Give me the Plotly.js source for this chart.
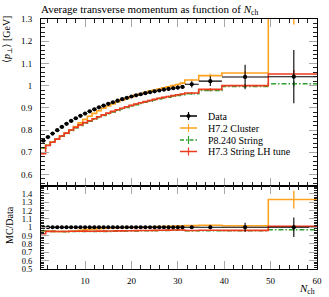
<!DOCTYPE html>
<html>
<head>
<meta charset="utf-8">
<script src="https://cdn.plot.ly/plotly-3.0.1.min.js"></script>
<style>html,body{margin:0;padding:0;background:#fff;}#plot{width:329px;height:297px;}</style>
</head>
<body>
<div id="plot"></div>
<script>
// ---- data ----
const nchCentres = [1,2,3,4,5,6,7,8,9,10,11,12,13,14,15,16,17,18,19,20,21,22,23,24,25,26,27,28,29,30,31,33,37,44.5,55];
const binLow  = [0.5,1.5,2.5,3.5,4.5,5.5,6.5,7.5,8.5,9.5,10.5,11.5,12.5,13.5,14.5,15.5,16.5,17.5,18.5,19.5,20.5,21.5,22.5,23.5,24.5,25.5,26.5,27.5,28.5,29.5,30.5,31.5,34.5,39.5,49.5];
const binHigh = [1.5,2.5,3.5,4.5,5.5,6.5,7.5,8.5,9.5,10.5,11.5,12.5,13.5,14.5,15.5,16.5,17.5,18.5,19.5,20.5,21.5,22.5,23.5,24.5,25.5,26.5,27.5,28.5,29.5,30.5,31.5,34.5,39.5,49.5,60];

const dataVals = [0.752,0.768,0.784,0.799,0.814,0.828,0.841,0.853,0.864,0.874,0.884,0.893,0.902,0.910,0.918,0.925,0.932,0.939,0.945,0.951,0.956,0.961,0.966,0.970,0.974,0.978,0.982,0.985,0.988,0.991,0.994,1.006,1.020,1.039,1.040];
const dataErr  = [0.003,0.003,0.003,0.003,0.003,0.003,0.003,0.003,0.003,0.003,0.004,0.004,0.004,0.004,0.004,0.005,0.005,0.005,0.005,0.006,0.006,0.006,0.006,0.007,0.007,0.007,0.008,0.008,0.008,0.009,0.009,0.014,0.022,0.055,0.120];

const h72Vals = [0.718,0.731,0.745,0.758,0.772,0.786,0.800,0.815,0.832,0.848,0.862,0.875,0.887,0.898,0.908,0.917,0.926,0.934,0.942,0.950,0.957,0.963,0.969,0.975,0.980,0.985,0.990,0.995,1.000,1.005,1.011,1.025,1.045,1.057,1.385];
const h72Err  = [0.002,0.002,0.002,0.002,0.002,0.002,0.002,0.002,0.002,0.002,0.002,0.002,0.002,0.002,0.002,0.002,0.002,0.003,0.003,0.003,0.003,0.003,0.003,0.003,0.003,0.004,0.004,0.004,0.004,0.004,0.004,0.005,0.008,0.010,0.110];

const p8Vals = [0.720,0.731,0.745,0.758,0.772,0.785,0.798,0.810,0.821,0.831,0.840,0.849,0.857,0.865,0.873,0.881,0.888,0.895,0.902,0.908,0.914,0.920,0.925,0.930,0.935,0.940,0.944,0.948,0.952,0.956,0.959,0.963,0.978,0.996,1.008];
const p8Err  = [0.002,0.002,0.002,0.002,0.002,0.002,0.002,0.002,0.002,0.002,0.002,0.002,0.002,0.002,0.002,0.002,0.002,0.002,0.002,0.003,0.003,0.003,0.003,0.003,0.003,0.003,0.003,0.003,0.003,0.003,0.003,0.004,0.005,0.006,0.012];

const h73Vals = [0.693,0.730,0.745,0.759,0.773,0.786,0.800,0.812,0.823,0.833,0.842,0.851,0.860,0.868,0.876,0.884,0.891,0.898,0.905,0.911,0.917,0.923,0.928,0.933,0.938,0.943,0.947,0.951,0.955,0.959,0.962,0.967,0.983,1.000,1.052];
const h73Err  = [0.002,0.002,0.002,0.002,0.002,0.002,0.002,0.002,0.002,0.002,0.002,0.002,0.002,0.002,0.002,0.002,0.002,0.002,0.002,0.003,0.003,0.003,0.003,0.003,0.003,0.003,0.003,0.003,0.003,0.003,0.003,0.004,0.005,0.006,0.018];

const seriesNames = ["Data","H7.2 Cluster","P8.240 String","H7.3 String LH tune"];
const xTickVals = [10,20,30,40,50,60];
const yMainTicks = [0.6,0.7,0.8,0.9,1.0,1.1,1.2,1.3];
const yRatioTicks = [0.5,0.6,0.7,0.8,0.9,1.0,1.1,1.2,1.3,1.4];

// ---- styles ----
const FONT = "Liberation Serif, DejaVu Serif, serif";
const cOrange = "#ffa21f", cGreen = "#2ea02e", cRed = "#ee3b1e";
const mcSeries = [
  {name: seriesNames[1], vals: h72Vals, err: h72Err, color: cOrange, dash: "solid"},
  {name: seriesNames[2], vals: p8Vals,  err: p8Err,  color: cGreen,  dash: "5px,2px,1.5px,2px"},
  {name: seriesNames[3], vals: h73Vals, err: h73Err, color: cRed,    dash: "solid"}
];

const xPlus  = nchCentres.map((c,i)=>binHigh[i]-c);
const xMinus = nchCentres.map((c,i)=>c-binLow[i]);
const stepX = binLow.concat([binHigh[binHigh.length-1]]);

const traces = [];
mcSeries.forEach(s => {
  const ratio = s.vals.map((v,i)=>v/dataVals[i]);
  const ratioErr = s.err.map((e,i)=>e/dataVals[i]);
  [["x","y",s.vals,s.err],["x2","y2",ratio,ratioErr]].forEach(([xa,ya,v,e]) => {
    traces.push({type:"scatter", mode:"lines", x: stepX, y: v.concat([v[v.length-1]]),
      line:{shape:"hv", color:s.color, width:1.6, dash:s.dash}, xaxis:xa, yaxis:ya,
      showlegend:false, hoverinfo:"skip"});
    traces.push({type:"scatter", mode:"markers", x: nchCentres, y: v,
      marker:{size:1, color:"rgba(0,0,0,0)"},
      error_y:{type:"data", array:e, visible:true, color:s.color, thickness:1.4, width:0},
      xaxis:xa, yaxis:ya, showlegend:false, hoverinfo:"skip"});
  });
});
// data on top
traces.push({type:"scatter", mode:"markers", x:nchCentres, y:dataVals, xaxis:"x", yaxis:"y",
  marker:{size:4.2, color:"#000", symbol:"circle"},
  error_y:{type:"data", array:dataErr, visible:true, color:"#000", thickness:1.1, width:0},
  error_x:{type:"data", array:xPlus, arrayminus:xMinus, symmetric:false, visible:true, color:"#000", thickness:1.1, width:0},
  showlegend:false, hoverinfo:"skip"});
traces.push({type:"scatter", mode:"markers", x:nchCentres, y:dataVals.map(()=>1), xaxis:"x2", yaxis:"y2",
  marker:{size:4.2, color:"#000", symbol:"circle"},
  error_y:{type:"data", array:dataErr.map((e,i)=>e/dataVals[i]), visible:true, color:"#000", thickness:1.1, width:0},
  error_x:{type:"data", array:xPlus, arrayminus:xMinus, symmetric:false, visible:true, color:"#000", thickness:1.1, width:0},
  showlegend:false, hoverinfo:"skip"});

const W = 329, H = 297, L = 41, R = 12, T = 19, B = 28;
const pw = W - L - R, ph = H - T - B;
const px = v => (v - L) / pw;
const py = v => (H - B - v) / ph;
const splitY = py(185.5);

const axisCommon = {
  showline:true, linecolor:"#000", linewidth:1, mirror:"allticks",
  ticks:"inside", ticklen:8, tickcolor:"#a8a8a8", tickwidth:1,
  showgrid:false, zeroline:false,
  tickfont:{family:FONT, size:9, color:"#000"}
};

const layout = {
  width:W, height:H, margin:{l:L, r:R, t:T, b:B, pad:0},
  paper_bgcolor:"#fff", plot_bgcolor:"#fff", showlegend:false,
  xaxis:Object.assign({}, axisCommon, {domain:[0,1], range:[0.5,60], anchor:"y", showticklabels:false,
    tickmode:"array", tickvals:xTickVals,
    minor:{ticks:"inside", ticklen:4, tickcolor:"#222", dtick:2, tick0:0}}),
  yaxis:Object.assign({}, axisCommon, {domain:[splitY,1], range:[0.55,1.3], anchor:"x",
    tickmode:"array", tickvals:yMainTicks, ticklabelstandoff:6,
    minor:{ticks:"inside", ticklen:4, tickcolor:"#222", dtick:0.02, tick0:0}}),
  xaxis2:Object.assign({}, axisCommon, {domain:[0,1], range:[0.5,60], anchor:"y2", matches:"x",
    tickmode:"array", tickvals:xTickVals, ticklabelstandoff:3,
    minor:{ticks:"inside", ticklen:4, tickcolor:"#222", dtick:2, tick0:0}}),
  yaxis2:Object.assign({}, axisCommon, {domain:[0,splitY], range:[0.5,1.5], anchor:"x2",
    tickmode:"array", tickvals:yRatioTicks, ticklabelstandoff:6,
    tickfont:{family:FONT, size:8.5, color:"#000"},
    minor:{ticks:"inside", ticklen:3, tickcolor:"#222", dtick:0.02, tick0:0}}),
  annotations:[
    {text:"Average transverse momentum as function of <i>N</i><sub>ch</sub>", xref:"paper", yref:"paper",
     x:px(39), y:py(10.5), xanchor:"left", yanchor:"middle", showarrow:false,
     font:{family:FONT, size:11, color:"#000"}},
    {text:"⟨<i>p</i><sub>⊥</sub>⟩ [GeV]", xref:"paper", yref:"paper", x:px(8), y:py(40),
     xanchor:"center", yanchor:"middle", textangle:-90, showarrow:false,
     font:{family:FONT, size:10, color:"#000"}},
    {text:"MC/Data", xref:"paper", yref:"paper", x:px(9), y:py(225),
     xanchor:"center", yanchor:"middle", textangle:-90, showarrow:false,
     font:{family:FONT, size:10, color:"#000"}},
    {text:"<i>N</i><sub>ch</sub>", xref:"paper", yref:"paper", x:1, y:py(289),
     xanchor:"right", yanchor:"middle", showarrow:false,
     font:{family:FONT, size:11, color:"#000"}}
  ],
  shapes:[]
};

// legend (decorative key drawn in paper space)
const legRows = [116, 128, 140, 151.5];
const legColors = ["#000", cOrange, cGreen, cRed];
seriesNames.forEach((name, i) => {
  const yc = py(legRows[i]);
  layout.shapes.push({type:"line", xref:"paper", yref:"paper", x0:px(180), x1:px(197), y0:yc, y1:yc,
    line:{color:legColors[i], width:1.5, dash: i===2 ? "4px,2px,1.5px,2px" : "solid"}});
  layout.shapes.push({type:"line", xref:"paper", yref:"paper", x0:px(188.5), x1:px(188.5),
    y0:yc-4/ph, y1:yc+4/ph, line:{color:legColors[i], width:1.2}});
  if (i === 0) {
    layout.shapes.push({type:"circle", xref:"paper", yref:"paper",
      x0:px(186.5), x1:px(190.5), y0:yc-2/ph, y1:yc+2/ph, fillcolor:"#000", line:{color:"#000", width:0}});
  }
  layout.annotations.push({text:name, xref:"paper", yref:"paper", x:px(206), y:yc,
    xanchor:"left", yanchor:"middle", showarrow:false, font:{family:FONT, size:10, color:"#000"}});
});

Plotly.newPlot("plot", traces, layout, {staticPlot:true, displayModeBar:false});
</script>
</body>
</html>
